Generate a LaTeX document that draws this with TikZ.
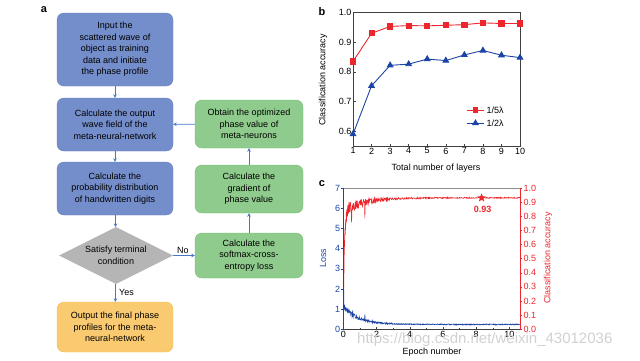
\documentclass[tikz,border=0pt]{standalone}
\usepackage{fontspec}
\setmainfont{Liberation Sans}
\usetikzlibrary{shapes.geometric,arrows.meta,plotmarks}

\definecolor{boxblue}{RGB}{116,142,203}
\definecolor{boxblueline}{RGB}{98,126,193}
\definecolor{boxgreen}{RGB}{143,203,140}
\definecolor{boxgreenline}{RGB}{118,188,116}
\definecolor{boxgray}{RGB}{181,181,181}
\definecolor{boxorange}{RGB}{250,202,112}
\definecolor{boxorangeline}{RGB}{246,188,80}
\definecolor{arrblue}{RGB}{72,120,196}
\definecolor{curvered}{RGB}{236,38,44}
\definecolor{curveblue}{RGB}{28,68,165}

\begin{document}
\begin{tikzpicture}[x=1pt,y=-1pt,
  flow/.style={rounded corners=7pt, minimum width=116pt, align=center,
    font=\fontsize{9}{11.5}\selectfont, inner sep=2pt},
  bluebox/.style={flow, fill=boxblue, draw=boxblueline},
  greenbox/.style={flow, fill=boxgreen, draw=boxgreenline, minimum width=108pt},
  orangebox/.style={flow, fill=boxorange, draw=boxorangeline},
  flowarr/.style={draw=arrblue, line width=0.8pt, -{Stealth[length=3.5pt,width=3.5pt]}},
  panel/.style={font=\fontsize{11}{11}\selectfont\bfseries},
  ticklab/.style={font=\fontsize{9}{9}\selectfont, inner sep=1.5pt},
  axlab/.style={font=\fontsize{9}{9}\selectfont},
  declare function={
    acc(\t)=0.93-0.09*exp(max(-\t/1.2,-9))-0.74*exp(max(-\t/0.07,-9));
    accnz(\t)=0.055*exp(max(-\t/1.2,-9))+0.004;
    loss(\t)=0.24+0.9*exp(max(-\t/0.9,-9))+5.6*exp(max(-\t/0.012,-9));
    lossnz(\t)=0.14*exp(max(-\t/1,-9))+0.025;
  }]
\useasboundingbox (0,0) rectangle (640,360);

% panel a: flow chart
\node[panel] (la) at (44,10) {a};
\node[bluebox, minimum height=73pt] (input) at (115,49.5)
  {Input the\\scattered wave of\\object as training\\data and initiate\\the phase profile};
\node[bluebox, minimum height=53pt] (field) at (115,124.5)
  {Calculate the output\\wave field of the\\meta-neural-network};
\node[bluebox, minimum height=53pt] (prob) at (115,188.5)
  {Calculate the\\probability distribution\\of handwritten digits};
\node[shape=diamond, fill=boxgray, aspect=2, minimum width=114pt, minimum height=57pt,
  inner sep=0pt, align=center, font=\fontsize{9}{11.5}\selectfont] (cond) at (116,255.5)
  {Satisfy terminal\\condition};
\node[orangebox, minimum height=50pt] (final) at (115,327)
  {Output the final phase\\profiles for the meta-\\neural-network};
\node[greenbox, minimum height=48pt] (optim) at (249,124)
  {Obtain the optimized\\phase value of\\meta-neurons};
\node[greenbox, minimum height=48pt] (grad) at (249,189)
  {Calculate the\\gradient of\\phase value};
\node[greenbox, minimum height=45pt] (loss) at (249,255.5)
  {Calculate the\\softmax-cross-\\entropy loss};

\draw[flowarr] (input) -- (field);
\draw[flowarr] (field) -- (prob);
\draw[flowarr] (prob) -- (cond);
\draw[flowarr] (cond) -- node[right, axlab, pos=0.5] {Yes} (final);
\draw[flowarr] (cond) -- node[above, axlab, pos=0.45, inner sep=1.5pt] {No} (loss);
\draw[flowarr] (loss) -- (grad);
\draw[flowarr] (grad) -- (optim);
\draw[flowarr] (optim) -- (field);

% panel b: accuracy vs. layers
\node[panel] (lb) at (322,12) {b};
\begin{scope}[shift={(334.44pt,-309.2pt)}, x=18.56pt, y=296.7pt]
  \draw[black!75, line width=0.6pt] (1,0.55) rectangle (10,1.0);
  \foreach \x in {1,...,10} {
    \draw[black!75] (\x,0.55) -- ++(0,2.5pt);
    \node[ticklab, below] (bx\x) at (\x,0.55) {\x};
  }
  \foreach \y in {0.6,0.7,0.8,0.9,1.0} {
    \draw[black!75] (1,\y) -- ++(2.5pt,0);
    \node[ticklab, left] (by\y) at (1,\y) {\y};
  }
  \draw[curvered, line width=0.9pt, mark=square*, mark size=2.6pt] plot coordinates {
    (1,0.835) (2,0.930) (3,0.953) (4,0.956) (5,0.955)
    (6,0.957) (7,0.959) (8,0.965) (9,0.963) (10,0.963)};
  \draw[curveblue, line width=0.9pt, mark=triangle*, mark size=3.2pt] plot coordinates {
    (1,0.590) (2,0.753) (3,0.822) (4,0.826) (5,0.843)
    (6,0.838) (7,0.857) (8,0.872) (9,0.856) (10,0.848)};
\end{scope}
\node[axlab] (bxlab) at (436,168) {Total number of layers};
\node[axlab, rotate=90] (bylab) at (323,80) {Classification accuracy};
% legend
\draw[curvered, line width=0.9pt] (467,110) -- (484,110);
\fill[curvered] (472.9,107.4) rectangle (478.1,112.6);
\node[ticklab, anchor=west] (leg1) at (485,110) {1/5λ};
\draw[curveblue, line width=0.9pt] (467,123) -- (484,123);
\fill[curveblue] (475.5,119.2) -- (479,125) -- (472,125) -- cycle;
\node[ticklab, anchor=west] (leg2) at (485,123) {1/2λ};

% panel c: loss and accuracy vs. epoch
\node[panel] (lc) at (322,184) {c};
\begin{scope}[shift={(343.3pt,-329.3pt)}, x=16.6pt, y=20.2pt]
  \pgfmathsetseed{11}
  \draw[curvered, line width=0.6pt]
    plot[domain=0:0.4, samples=41] (\x,{7*(acc(\x)+accnz(\x)*rand)})
    -- plot[domain=0.4:10.64, samples=513]
      (\x,{7*(acc(\x)+accnz(\x)*rand+((abs(\x-1.3)<0.005)?-0.12:0)+((abs(\x-0.5)<0.005)?-0.1:0))});
  \draw[curveblue, line width=0.6pt]
    plot[domain=0:0.4, samples=41] (\x,{loss(\x)+lossnz(\x)*rand})
    -- plot[domain=0.4:10.64, samples=513]
      (\x,{loss(\x)+lossnz(\x)*rand+((abs(\x-1.3)<0.005)?0.3:0)});
  % axes
  \draw[black!75, line width=0.6pt] (0,0) -- (10.64,0);
  \draw[black!45, line width=0.6pt] (0,7) -- (10.64,7);
  \draw[curveblue, line width=0.6pt] (0,0) -- (0,7);
  \draw[curvered, line width=0.6pt] (10.64,0) -- (10.64,7);
  \foreach \y in {0,...,7} {
    \draw[curveblue] (0,\y) -- ++(-2.5pt,0);
    \node[ticklab, left, text=curveblue] (cl\y) at (-1.5pt,\y) {\y};
  }
  \foreach \i/\t in {0/0.0,1/0.1,2/0.2,3/0.3,4/0.4,5/0.5,6/0.6,7/0.7,8/0.8,9/0.9,10/1.0} {
    \draw[curvered] (10.64,{\i*0.7}) -- ++(2.5pt,0);
    \node[ticklab, right, text=curvered] (cr\i) at ([xshift=2pt]10.64,{\i*0.7}) {\t};
  }
  \foreach \x in {0,2,...,10} {
    \draw[black!75] (\x,0) -- ++(0,2.5pt);
    \node[ticklab, below] (cx\x) at (\x,0) {\x};
  }
  \foreach \x in {1,3,...,9} \draw[black!75] (\x,0) -- ++(0,1.5pt);
  \node[star, star points=5, star point ratio=2.3, fill=curvered, inner sep=0pt,
    minimum size=9pt] (best) at (8.33,{0.93*7}) {};
  \node[ticklab, text=curvered, font=\fontsize{9}{9}\selectfont\bfseries] (bestlab) at (8.4,5.95) {0.93};
\end{scope}
\node[axlab, rotate=90, text=curveblue] (cylab) at (323,258) {Loss};
\node[axlab, rotate=90, text=curvered] (cracc) at (548,258) {Classification accuracy};
\node[axlab] (cxlab) at (432,352) {Epoch number};

% watermark
\node[text=black!18, font=\fontsize{15}{15}\selectfont, anchor=west, inner sep=0pt]
  (wm) at (357,340) {https://blog.csdn.net/weixin\_43012036};
\end{tikzpicture}
\end{document}
